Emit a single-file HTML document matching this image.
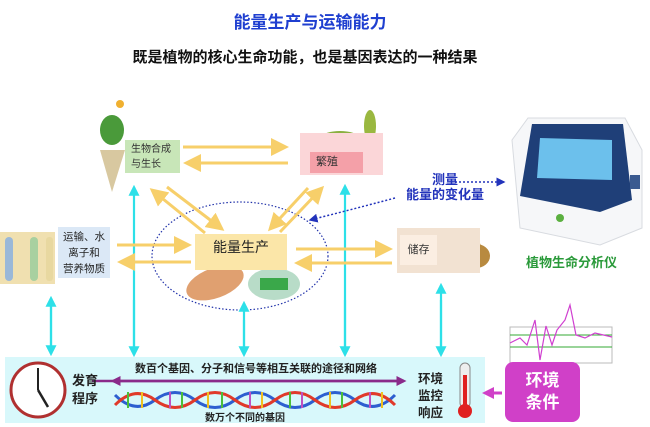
<!DOCTYPE html>
<html><head><meta charset="utf-8"><style>
body{margin:0;width:650px;height:427px;background:#fff;position:relative;overflow:hidden;font-family:"Liberation Sans","Noto Sans CJK SC",sans-serif}
.a{position:absolute}
.t{white-space:nowrap}
</style></head><body>
<div class="a t" style="left:0;width:620px;top:8px;text-align:center;font-size:17px;font-weight:bold;color:#1f3fd0">能量生产与运输能力</div>
<div class="a t" style="left:0;width:610px;top:46px;text-align:center;font-size:15px;font-weight:bold;color:#111">既是植物的核心生命功能，也是基因表达的一种结果</div>

<svg class="a" style="left:0;top:0" width="650" height="427">
<defs>
<marker id="y" markerWidth="6" markerHeight="6" refX="5" refY="3" orient="auto" markerUnits="strokeWidth"><path d="M0,0L6,3L0,6z" fill="#f7cf6a"/></marker>
<marker id="c" markerWidth="5" markerHeight="5" refX="4" refY="2.5" orient="auto" markerUnits="strokeWidth"><path d="M0,0L5,2.5L0,5z" fill="#2de0e8"/></marker>
<marker id="b" markerWidth="6" markerHeight="6" refX="5" refY="3" orient="auto" markerUnits="strokeWidth"><path d="M0,0L6,3L0,6z" fill="#2233bb"/></marker>
<marker id="p" markerWidth="4" markerHeight="4" refX="3" refY="2" orient="auto" markerUnits="strokeWidth"><path d="M0,0L4,2L0,4z" fill="#8a2a8a"/></marker>
<marker id="m" markerWidth="4" markerHeight="4" refX="3" refY="2" orient="auto" markerUnits="strokeWidth"><path d="M0,0L4,2L0,4z" fill="#d040c8"/></marker>
</defs>
<ellipse cx="240" cy="256" rx="88" ry="54" fill="none" stroke="#2233aa" stroke-width="1.2" stroke-dasharray="1.5,2"/>
<rect x="5" y="357" width="480" height="66" fill="#d8f8fb"/>
<g stroke="#2de0e8" stroke-width="2.2">
<line x1="51" y1="352" x2="51" y2="298" marker-end="url(#c)"/><line x1="51" y1="300" x2="51" y2="354" marker-end="url(#c)"/>
<line x1="134" y1="354" x2="134" y2="187" marker-end="url(#c)"/><line x1="134" y1="300" x2="134" y2="355" marker-end="url(#c)"/>
<line x1="244" y1="354" x2="244" y2="303" marker-end="url(#c)"/><line x1="244" y1="320" x2="244" y2="355" marker-end="url(#c)"/>
<line x1="345" y1="354" x2="345" y2="186" marker-end="url(#c)"/><line x1="345" y1="300" x2="345" y2="355" marker-end="url(#c)"/>
<line x1="441" y1="354" x2="441" y2="285" marker-end="url(#c)"/><line x1="441" y1="300" x2="441" y2="355" marker-end="url(#c)"/>
</g>
<g stroke="#f7cf6a" stroke-width="3">
<line x1="183" y1="147" x2="286" y2="147" marker-end="url(#y)"/>
<line x1="288" y1="163" x2="186" y2="163" marker-end="url(#y)"/>
<line x1="117" y1="245" x2="189" y2="245" marker-end="url(#y)"/>
<line x1="191" y1="262" x2="120" y2="262" marker-end="url(#y)"/>
<line x1="296" y1="249" x2="390" y2="249" marker-end="url(#y)"/>
<line x1="392" y1="263" x2="297" y2="263" marker-end="url(#y)"/>
<line x1="205" y1="233" x2="152" y2="190" marker-end="url(#y)"/>
<line x1="167" y1="187" x2="222" y2="229" marker-end="url(#y)"/>
<line x1="308" y1="188" x2="270" y2="229" marker-end="url(#y)"/>
<line x1="280" y1="232" x2="322" y2="188" marker-end="url(#y)"/>
</g>
<path d="M455,182 L504,182" stroke="#2233bb" stroke-width="1.5" stroke-dasharray="2,2" fill="none" marker-end="url(#b)"/>
<path d="M395,198 Q350,210 310,220" stroke="#2233bb" stroke-width="1.5" stroke-dasharray="2,2" fill="none" marker-end="url(#b)"/>
<line x1="92" y1="381" x2="404" y2="381" stroke="#8a2a8a" stroke-width="2.5" marker-end="url(#p)"/>
<line x1="400" y1="381" x2="113" y2="381" stroke="#8a2a8a" stroke-width="2.5" marker-end="url(#p)"/>
<g fill="none" stroke-width="3">
<path d="M115,395 Q135,415 155,400 T195,400 T235,400 T275,400 T315,400 T355,400 T395,395" stroke="#2d5fd0"/>
<path d="M115,405 Q135,385 155,400 T195,400 T235,400 T275,400 T315,400 T355,400 T395,405" stroke="#e03a2a"/>
</g>
<g stroke-width="2">
<line x1="128" y1="392" x2="128" y2="408" stroke="#4bbf3a"/><line x1="142" y1="392" x2="142" y2="408" stroke="#f0c020"/>
<line x1="170" y1="392" x2="170" y2="408" stroke="#c050c0"/><line x1="182" y1="392" x2="182" y2="408" stroke="#4bbf3a"/>
<line x1="208" y1="392" x2="208" y2="408" stroke="#f0c020"/><line x1="222" y1="392" x2="222" y2="408" stroke="#4bbf3a"/>
<line x1="250" y1="392" x2="250" y2="408" stroke="#c050c0"/><line x1="262" y1="392" x2="262" y2="408" stroke="#f0c020"/>
<line x1="290" y1="392" x2="290" y2="408" stroke="#4bbf3a"/><line x1="302" y1="392" x2="302" y2="408" stroke="#c050c0"/>
<line x1="330" y1="392" x2="330" y2="408" stroke="#f0c020"/><line x1="342" y1="392" x2="342" y2="408" stroke="#4bbf3a"/>
<line x1="370" y1="392" x2="370" y2="408" stroke="#c050c0"/><line x1="382" y1="392" x2="382" y2="408" stroke="#f0c020"/>
</g>
<circle cx="38" cy="390" r="27" fill="#fff" stroke="#b03030" stroke-width="3"/>
<line x1="38" y1="390" x2="38" y2="368" stroke="#222" stroke-width="2"/><line x1="38" y1="390" x2="48" y2="407" stroke="#222" stroke-width="2.5"/>
<rect x="460" y="363" width="10" height="45" rx="5" fill="#eee" stroke="#888"/>
<rect x="463" y="375" width="4" height="35" fill="#e02020"/>
<circle cx="465" cy="411" r="7" fill="#e02020"/>
<line x1="502" y1="393" x2="485" y2="393" stroke="#d040c8" stroke-width="3" marker-end="url(#m)"/>
<rect x="510" y="327" width="102" height="36" fill="none" stroke="#bbb"/>
<line x1="510" y1="335" x2="612" y2="335" stroke="#3a3"/><line x1="510" y1="347" x2="612" y2="347" stroke="#3a3"/>
<polyline points="510,343 520,338 527,345 535,320 540,360 546,326 552,345 557,330 565,320 570,305 576,335 585,338 595,333 612,337" fill="none" stroke="#d040d0" stroke-width="1.2"/>
<!-- device -->
<path d="M528,118 L625,118 L642,150 L642,228 L600,245 L520,228 L512,140 Z" fill="#f6f7f9" stroke="#d8dbe0"/>
<path d="M532,124 L623,124 L632,200 L600,212 L520,196 Z" fill="#1f3f78"/>
<path d="M540,138 L612,140 L612,180 L537,178 Z" fill="#6cc0ec"/>
<rect x="630" y="175" width="10" height="14" fill="#3a5a90"/>
<circle cx="560" cy="218" r="4" fill="#5bb040"/>
<ellipse cx="112" cy="130" rx="12" ry="15" fill="#4a9a3a"/><circle cx="120" cy="104" r="4" fill="#f0b030"/>
<path d="M100,150 L112,192 L125,150" fill="#d8c8a0"/>
<ellipse cx="340" cy="137" rx="18" ry="6" fill="#8ab040"/><ellipse cx="370" cy="126" rx="6" ry="16" fill="#9ab840"/>
<rect x="0" y="232" width="55" height="52" fill="#f0e0b0"/>
<rect x="5" y="237" width="8" height="44" rx="4" fill="#9ab8d8"/><rect x="30" y="237" width="8" height="44" rx="4" fill="#a8d0a0"/><rect x="46" y="237" width="7" height="44" rx="3" fill="#e8d8a0"/>
<ellipse cx="215" cy="283" rx="30" ry="15" fill="#e0a070" transform="rotate(-20 215 283)"/>
<ellipse cx="274" cy="284" rx="26" ry="16" fill="#b8dcc8"/>
<rect x="260" y="278" width="28" height="12" fill="#3aa84a"/>
<ellipse cx="463" cy="248" rx="18" ry="15" fill="#c8a050"/><ellipse cx="476" cy="256" rx="14" ry="12" fill="#b88a40"/>
</svg>

<div class="a" style="left:125px;top:140px;width:55px;height:33px;background:#c8e6b8;font-size:10px;line-height:15px;padding:2px 0 0 6px;box-sizing:border-box;color:#333">生物合成<br>与生长</div>
<div class="a" style="left:300px;top:133px;width:83px;height:42px;background:#fbd6d8"></div>
<div class="a t" style="left:310px;top:152px;width:53px;height:21px;background:#f4a0a8;font-size:11px;line-height:21px;padding-left:6px;box-sizing:border-box;color:#333">繁殖</div>
<div class="a t" style="left:195px;top:234px;width:92px;height:36px;background:#fbe6a8;font-size:14px;text-align:center;line-height:26px;color:#222">能量生产</div>
<div class="a" style="left:58px;top:227px;width:52px;height:51px;background:#dbe8f6;font-size:10.5px;line-height:16px;text-align:center;color:#222;padding-top:2px;box-sizing:border-box">运输、水<br>离子和<br>营养物质</div>
<div class="a" style="left:397px;top:228px;width:83px;height:45px;background:#f2e2d2"></div>
<div class="a t" style="left:400px;top:235px;width:37px;height:30px;background:#fbeee2;font-size:11px;line-height:30px;text-align:center;color:#333">储存</div>
<div class="a t" style="left:405px;top:172px;width:80px;text-align:center;font-size:13px;font-weight:bold;color:#2233bb;line-height:15px">测量<br>能量的变化量</div>
<div class="a t" style="left:526px;top:252px;font-size:13px;font-weight:bold;color:#2a9a3a">植物生命分析仪</div>
<div class="a t" style="left:72px;top:372px;font-size:13px;font-weight:bold;color:#222;line-height:18px">发育<br>程序</div>
<div class="a t" style="left:135px;top:360px;font-size:11px;font-weight:bold;color:#222">数百个基因、分子和信号等相互关联的途径和网络</div>
<div class="a t" style="left:205px;top:409px;font-size:10px;font-weight:bold;color:#222">数万个不同的基因</div>
<div class="a t" style="left:418px;top:371px;font-size:12.5px;font-weight:bold;color:#222;line-height:17px">环境<br>监控<br>响应</div>
<div class="a" style="left:505px;top:362px;width:75px;height:60px;background:#d040c8;border-radius:8px;color:#fff;font-size:17px;font-weight:bold;text-align:center;line-height:22px;padding-top:8px;box-sizing:border-box">环境<br>条件</div>
</body></html>
